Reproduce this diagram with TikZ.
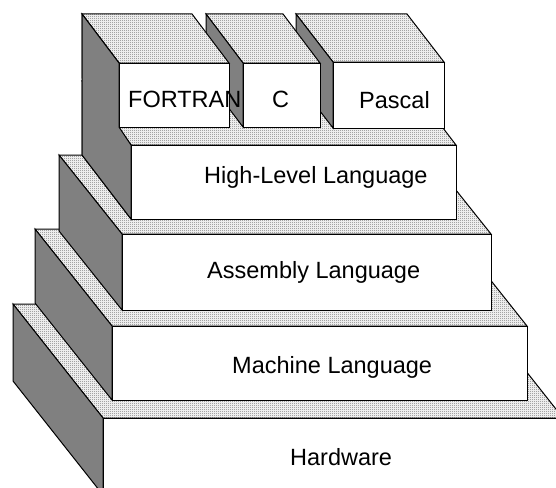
\documentclass[tikz,border=0pt]{standalone}
\usepackage{fontspec}
\setmainfont{Liberation Sans}
\usetikzlibrary{patterns}

\pgfdeclarepatternformonly{checker}{\pgfpointorigin}{\pgfpoint{2pt}{2pt}}{\pgfpoint{2pt}{2pt}}{%
  \pgfpathrectangle{\pgfpointorigin}{\pgfpoint{1pt}{1pt}}%
  \pgfpathrectangle{\pgfpoint{1pt}{1pt}}{\pgfpoint{1pt}{1pt}}%
  \pgfusepath{fill}}

\tikzset{
  topface/.style={draw, line width=1pt, preaction={fill=white}, pattern=checker, pattern color=black!55},
  sideface/.style={draw, line width=1pt, fill=black!50},
  frontface/.style={draw, line width=1pt, fill=white},
  lang/.style={anchor=base west, inner sep=0pt, font=\fontsize{23.5}{28}\selectfont}
}

% left, top, right, bottom of the front face, then depth
\newcommand{\slab}[6]{%
  \draw[topface] (#1,#2) -- (#3,#2) -- ({#3-#5},{#2-#6}) -- ({#1-#5},{#2-#6}) -- cycle;
  \draw[sideface] (#1,#2) -- ({#1-#5},{#2-#6}) -- ({#1-#5},{#4-#6}) -- (#1,#4) -- cycle;
  \draw[frontface] (#1,#2) rectangle (#3,#4);}

\begin{document}
\begin{tikzpicture}[x=1pt, y=-1pt]
    \useasboundingbox (0,0) rectangle (556,487);
    \clip (0,0) rectangle (556,487);
    \slab{103}{418}{563}{495}{90}{114}
    \slab{112}{326}{527}{400}{77}{97}
    \slab{122}{234}{491}{310}{63}{79}
    \slab{131}{145}{456}{219}{49}{64}
    \slab{333}{62}{444}{128}{37}{48}
    \slab{243}{63}{320}{127}{37}{49}
    \slab{119}{63}{229}{127}{37}{49}
    % one dark column for FORTRAN and High-Level
    \draw[sideface] (82,14) -- (119,63) -- (119,127) -- (131,145) -- (131,219) -- (82,155) -- cycle;
    \node[lang] (fortran) at (128,107) {FORTRAN};
    \node[lang] (c) at (272,107) {C};
    \node[lang] (pascal) at (359,108) {Pascal};
    \node[lang] (high) at (204,183) {High-Level Language};
    \node[lang] (asm) at (207,278) {Assembly Language};
    \node[lang] (mach) at (232,373) {Machine Language};
    \node[lang] (hw) at (290,465) {Hardware};
\end{tikzpicture}
\end{document}
